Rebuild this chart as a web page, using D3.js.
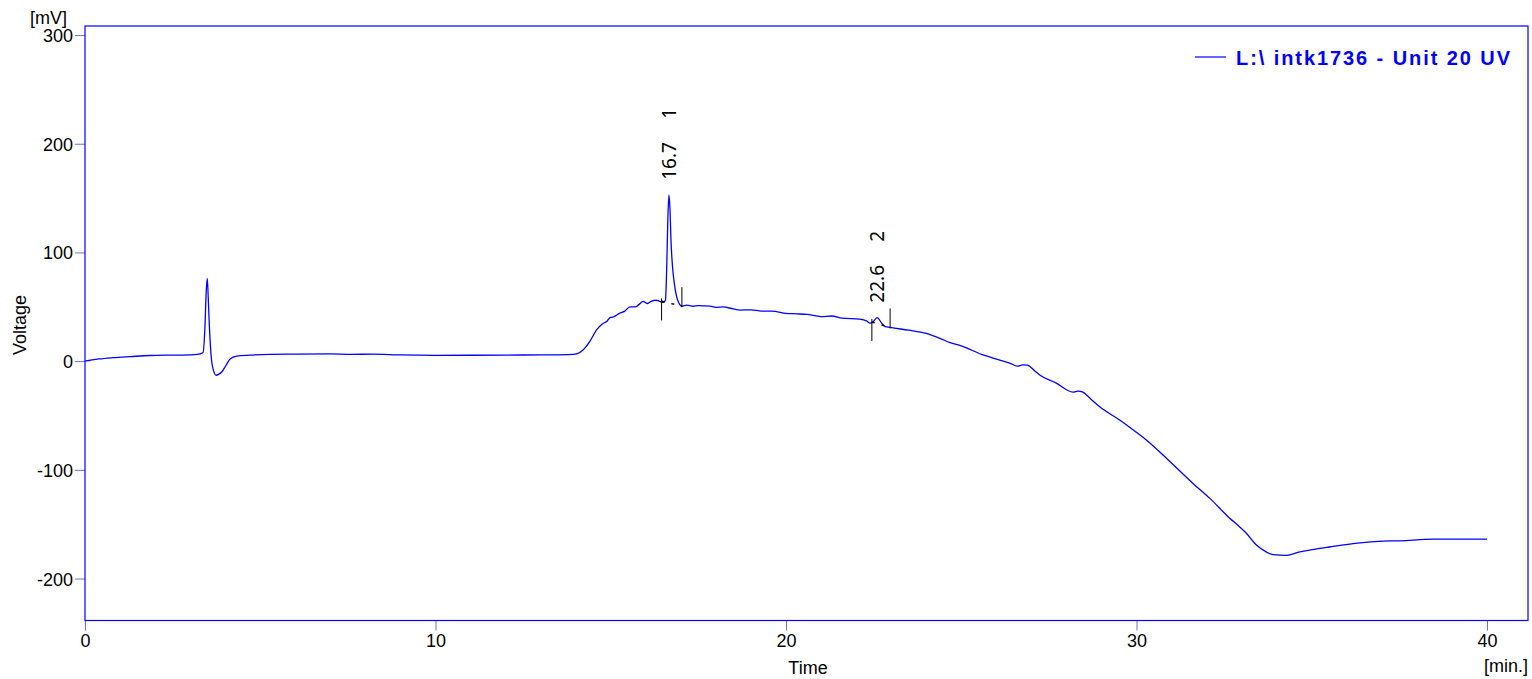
<!DOCTYPE html>
<html><head><meta charset="utf-8">
<script src="https://cdn.jsdelivr.net/npm/d3@7"></script>
<style>body{margin:0;background:#fff}svg{display:block}</style>
</head><body>
<svg id="c" width="1532" height="679"></svg>
<script>
const times = [0,0.15,0.4,0.8,1.3,1.85,2.4,2.8,3.2,3.37,3.42,3.46,3.49,3.52,3.55,3.61,3.67,3.74,3.82,3.9,4.02,4.14,4.33,4.7,5.28,6,7,7.6,8.2,9,10,11,12,13,13.8,14.05,14.2,14.4,14.6,14.75,14.9,14.98,15.1,15.25,15.4,15.55,15.7,15.8,15.92,16.05,16.15,16.3,16.4,16.5,16.56,16.6,16.63,16.66,16.69,16.72,16.76,16.8,16.85,16.9,16.97,17.03,17.17,17.35,17.5,17.83,18.0,18.2,18.5,18.69,19.0,19.3,19.6,20.0,20.3,20.6,21.0,21.3,21.6,22.1,22.3,22.4,22.48,22.6,22.73,22.82,22.97,23.5,24.0,24.39,24.68,25.0,25.6,26.1,26.4,26.6,26.75,26.88,27.1,27.25,27.7,28.19,28.33,28.47,28.7,28.96,29.53,30.0,30.29,30.96,31.61,32.1,32.57,33.14,33.43,33.7,33.9,34.28,34.66,35.0,35.5,36.3,37.03,37.5,38.46,40.0];
const voltage = [0,0.8,2,3.2,4.2,5.2,5.5,5.6,6.2,8,30,65,76,55,31,1,-9,-13,-12,-10,-4,2,4.6,5.5,6.2,6.4,6.6,6.2,6.5,5.7,5.3,5.4,5.6,5.7,6,7,10,18,29,34,37,40,41,44,46,50,50,52,55,53,55,56,55,54,56,90,132,153,140,110,88,75,64,57,52,50.5,51.5,50.5,51,50.6,49.5,50,48,47,47.2,46,46,44,43.5,43,41,41.5,39.5,38.6,37,35,36,40,35,32,31,28.5,25.5,21,17,14,6,1,-2,-4.6,-3.5,-3.7,-9,-13,-20,-28.5,-27.5,-28.5,-35,-42.3,-54.3,-65.5,-72.7,-92.6,-112.5,-126.5,-141.7,-158.6,-169.4,-175.5,-178,-178.6,-175.5,-173.5,-171,-167.4,-165.6,-165.3,-163.8,-163.8];

const xTicks = [0,10,20,30,40];
const yTicks = [-200,-100,0,100,200,300];

const peakRT = ["16.7","22.6"];
const peakNo = ["1","2"];
const peakApexT = [16.66,22.6];
const peakApexV = [153,40];
const peakStartT = [16.45,22.45];
const peakStartV = [55,36];
const peakEndT = [17.03,22.97];
const peakEndV = [50.6,31];

const legendText = "L:\\ intk1736 - Unit 20 UV";

const svg = d3.select("#c");
const L = 85, R = 1528, T = 26, B = 620.5;
const x = d3.scaleLinear().domain([0, 41.17]).range([L, R]);
const y = d3.scaleLinear().domain([-238.6, 308.3]).range([B, T]);
const FONT = "'Liberation Sans', Arial, sans-serif";

// axes
const xa = svg.append("g").attr("transform", `translate(0,${B})`)
  .call(d3.axisBottom(x).tickValues(xTicks).tickSize(10).tickPadding(4).tickFormat(d => String(d)));
const ya = svg.append("g").attr("transform", `translate(${L},0)`)
  .call(d3.axisLeft(y).tickValues(yTicks).tickSize(10).tickPadding(2).tickFormat(d => String(d)));
[xa, ya].forEach(g => {
  g.select(".domain").remove();
  g.selectAll(".tick line").attr("stroke", "#6a6aff").attr("stroke-width", 1);
  g.selectAll(".tick text").attr("fill", "#000").style("font-family", FONT).style("font-size", "18px");
});
ya.selectAll(".tick text").attr("dy", "0.36em");

// frame
svg.append("rect").attr("x", L).attr("y", T).attr("width", R - L).attr("height", B - T)
  .attr("fill", "none").attr("stroke", "#0000ff").attr("stroke-width", 1.2);

// axis titles
svg.append("text").attr("x", 808).attr("y", 674).attr("text-anchor", "middle")
  .style("font-family", FONT).style("font-size", "18px").text("Time");
svg.append("text").attr("transform", "translate(26,325) rotate(-90)").attr("text-anchor", "middle")
  .style("font-family", FONT).style("font-size", "18px").text("Voltage");
svg.append("text").attr("x", 30).attr("y", 24)
  .style("font-family", FONT).style("font-size", "18px").text("[mV]");
svg.append("text").attr("x", 1528).attr("y", 672).attr("text-anchor", "end")
  .style("font-family", FONT).style("font-size", "18px").text("[min.]");

// data line
const data = times.map((t, i) => [t, voltage[i]]);
svg.append("path").datum(data)
  .attr("fill", "none").attr("stroke", "#0000ff").attr("stroke-width", 1.3)
  .attr("d", d3.line().x(d => x(d[0])).y(d => y(d[1])).curve(d3.curveMonotoneX));

// peak markers
const mk = svg.append("g").attr("stroke", "#000").attr("stroke-width", 1);
peakStartT.forEach((t, i) => {
  const px = x(t), py = y(peakStartV[i]);
  const ex = x(peakEndT[i]), ey = y(peakEndV[i]);
  mk.append("line").attr("x1", px).attr("x2", px).attr("y1", py - 3).attr("y2", py + 19);
  mk.append("line").attr("x1", ex).attr("x2", ex).attr("y1", ey - 19).attr("y2", ey + 1);
  mk.append("line").attr("x1", px).attr("x2", ex).attr("y1", py).attr("y2", ey)
    .attr("stroke-width", 1.5).attr("stroke-dasharray", "3,7");
});

// peak labels
peakRT.forEach((s, i) => {
  const px = x(peakApexT[i]), py = y(peakApexV[i]);
  svg.append("text").attr("transform", `translate(${px + 7},${py - 15}) rotate(-90)`)
    .style("font-family", "'Noto Sans', sans-serif").style("font-size", "19px").text(s);
  svg.append("text").attr("transform", `translate(${px + 7},${py - 76}) rotate(-90)`)
    .style("font-family", "'Noto Sans', sans-serif").style("font-size", "19px").text(peakNo[i]);
});

// legend
svg.append("line").attr("x1", 1195).attr("x2", 1226).attr("y1", 57).attr("y2", 57)
  .attr("stroke", "#0000ff").attr("stroke-width", 1.2);
svg.append("text").attr("x", 1236).attr("y", 65).attr("fill", "#0000ff")
  .attr("textLength", 274).attr("lengthAdjust", "spacing")
  .style("font-family", FONT).style("font-weight", "bold").style("font-size", "20px").text(legendText);
</script>
</body></html>
